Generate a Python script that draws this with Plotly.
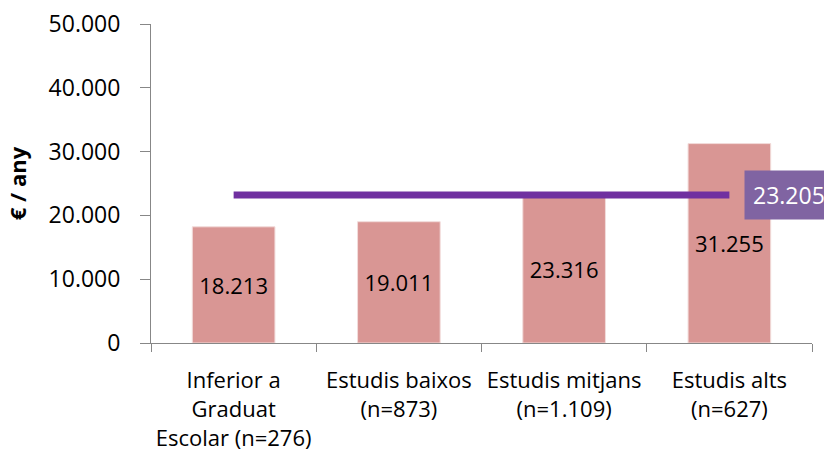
import plotly.graph_objects as go

categories = ["Inferior a<br>Graduat<br>Escolar (n=276)", "Estudis baixos<br>(n=873)",
              "Estudis mitjans<br>(n=1.109)", "Estudis alts<br>(n=627)"]
values = [18213, 19011, 23316, 31255]
average = 23205
y_ticks = [0, 10000, 20000, 30000, 40000, 50000]

FONT = "Open Sans"

fig = go.Figure()
fig.add_trace(go.Bar(
    x=categories, y=values, width=0.5,
    marker=dict(color="#D99694", line=dict(color="#F2DCDB", width=1)),
    text=values, texttemplate="%{y:,d}", textposition="inside",
    insidetextanchor="middle", textangle=0,
    textfont=dict(family=FONT, size=22, color="#000000"),
    cliponaxis=False, showlegend=False,
))
fig.add_trace(go.Scatter(
    x=[categories[0], categories[-1]], y=[average, average], mode="lines",
    line=dict(color="#7030A0", width=7), showlegend=False,
))
fig.add_annotation(
    x=3.09, y=average, xref="x", yref="y", xanchor="left", yanchor="middle",
    text=f"{average:,}".replace(",", "."), showarrow=False,
    font=dict(family=FONT, size=23, color="#FFFFFF"),
    bgcolor="#8064A2", borderpad=8,
)
fig.update_layout(
    width=824, height=452,
    margin=dict(l=151, r=12, t=24, b=109),
    plot_bgcolor="#FFFFFF", paper_bgcolor="#FFFFFF",
    separators=",.",
    bargap=0.5,
    font=dict(family=FONT, color="#000000"),
)
fig.update_xaxes(
    range=[-0.5, 3.5],
    showline=True, linecolor="#878787", linewidth=1,
    ticks="outside", tickson="boundaries", ticklen=8, tickcolor="#878787",
    tickfont=dict(family=FONT, size=22), tickangle=0, showgrid=False,
    automargin=False, ticklabelstandoff=18,
)
fig.update_yaxes(
    range=[0, 50000], tickvals=y_ticks, tickformat=",d",
    showline=True, linecolor="#878787", linewidth=1,
    ticks="outside", ticklen=10, tickcolor="#878787",
    tickfont=dict(family=FONT, size=23), showgrid=False, zeroline=False,
    automargin=False, ticklabelstandoff=15,
    title=dict(text="<b>€ / any</b>", font=dict(family=FONT, size=22), standoff=15),
)
fig.write_html("out.html", config={"displayModeBar": False},
               post_script="document.body.style.margin='0';")
